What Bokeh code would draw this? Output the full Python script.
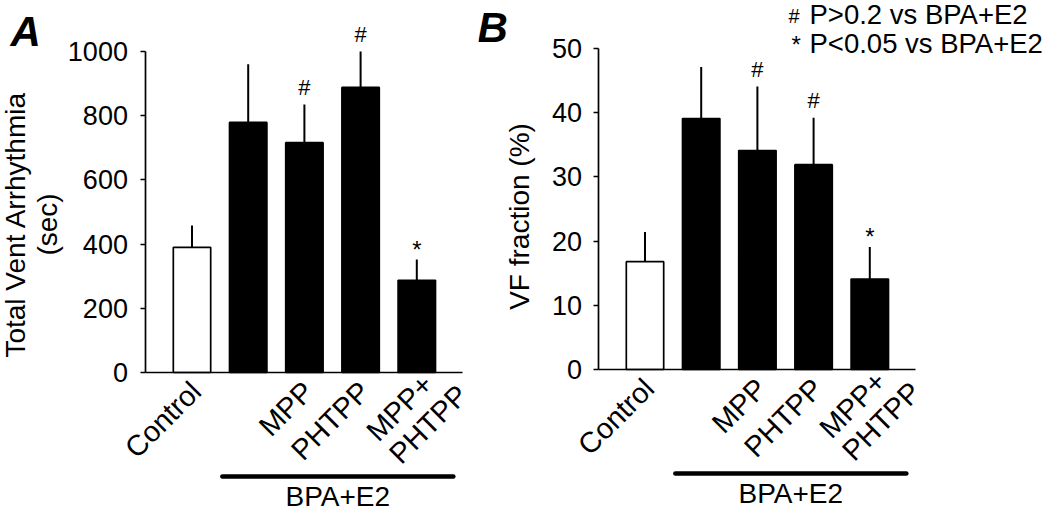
import math
from bokeh.plotting import figure
from bokeh.layouts import row
from bokeh.models import Range1d, FixedTicker
from bokeh.core.properties import value
from bokeh.embed import file_html
from bokeh.resources import INLINE

# ---------------- data ----------------
groups = ["Control", "BPA+E2", "MPP", "PHTPP", "MPP+PHTPP"]
tick_labels = ["Control", "", "MPP", "PHTPP", "MPP+\nPHTPP"]
arrhythmia_sec = [390, 779, 716, 888, 287]
arrhythmia_err = [68, 181, 119, 112, 65]
vf_pct = [16.8, 39.1, 34.1, 31.9, 14.1]
vf_err = [4.6, 8.0, 10.0, 7.3, 5.0]
sig_marks = ["", "", "#", "#", "*"]
arrhythmia_ticks = [0, 200, 400, 600, 800, 1000]
vf_ticks = [0, 10, 20, 30, 40, 50]
treatment_label = "BPA+E2"
legend_symbols = ["#", "*"]
legend_texts = ["P>0.2 vs BPA+E2", "P<0.05 vs BPA+E2"]

FONT = "Liberation Sans"
H = 514
GP = 56.2  # px per group
R2 = math.sqrt(0.5)


def build(spec):
    W = spec["width"]
    left = spec["left"]
    c0 = spec["c0"]
    zero = spec["zero"]
    ymax = spec["ymax"]
    pxy = (spec["zero"] - spec["top"]) / ymax

    def xd(rx):
        return (rx - c0) / GP

    def yd(ry):
        return (zero - ry) / pxy

    p = figure(width=W, height=H,
               x_range=Range1d(xd(left), xd(left + W)),
               y_range=Range1d(yd(H), yd(0)),
               output_backend="svg", toolbar_location=None,
               min_border=0, background_fill_color="white",
               border_fill_color="white")
    p.outline_line_color = None
    p.xgrid.visible = False
    p.ygrid.visible = False

    idx = list(range(len(groups)))
    means = spec["means"]
    errs = spec["errs"]
    tops = [m + e for m, e in zip(means, errs)]
    fills = ["white" if g == "Control" else "black" for g in groups]

    # axes
    xa = p.xaxis[0]
    xa.fixed_location = 0
    xa.bounds = (-0.82, 4.81)
    xa.ticker = FixedTicker(ticks=[])
    xa.major_tick_line_color = None
    xa.minor_tick_line_color = None
    xa.major_label_text_font_size = "0px"
    xa.axis_line_width = 1.7
    xa.axis_line_color = "black"

    ya = p.yaxis[0]
    ya.fixed_location = -0.82
    ya.bounds = (0, ymax)
    ya.ticker = FixedTicker(ticks=spec["ticks"])
    ya.major_tick_out = 5
    ya.major_tick_in = 0
    ya.major_tick_line_width = 1.7
    ya.major_tick_line_color = "black"
    ya.minor_tick_line_color = None
    ya.axis_line_width = 1.7
    ya.axis_line_color = "black"
    ya.major_label_text_font = FONT
    ya.major_label_text_font_size = "27px"
    ya.major_label_text_color = "black"
    ya.major_label_standoff = spec["standoff"]

    # error bars (upper only)
    p.segment(x0=idx, y0=means, x1=idx, y1=tops, line_color="black", line_width=2)
    # bars
    p.vbar(x=idx, top=means, bottom=0, width=0.665, fill_color=fills,
           line_color="black", line_width=1.7)

    # significance marks
    for i, m in enumerate(sig_marks):
        if not m:
            continue
        p.text(x=[idx[i]], y=[tops[i]], text=[m], text_font=value(FONT),
               text_font_size="22px" if m == "#" else "24px",
               text_align="center", text_baseline="alphabetic",
               y_offset=-17 if m == "#" else -10, text_color="black")

    # rotated category labels
    for i, lab in enumerate(tick_labels):
        if not lab:
            continue
        lines = lab.split("\n")
        for k, line in enumerate(lines):
            if len(lines) == 1:
                su, sv = 0.0, 0.0
            else:
                su, sv = 10.0 + 17.0 * k, 32.0 * k
            dx = 4 + (su + sv) * R2
            dy = 14 + (-su + sv) * R2
            p.text(x=[idx[i]], y=[0], text=[line], text_font=value(FONT),
                   text_font_size="29px", angle=math.pi / 4,
                   text_align="right", text_baseline="alphabetic",
                   x_offset=dx, y_offset=dy, text_color="black")

    # treatment bracket
    bx0, bx1 = 1 - 0.46, 4 + 0.65
    by = yd(spec["zero"] + 104)
    p.line(x=[bx0, bx1], y=[by, by], line_color="black", line_width=4.5,
           line_cap="round")
    p.text(x=[(bx0 + bx1) / 2], y=[by], text=[treatment_label],
           text_font=value(FONT), text_font_size="28px", text_align="center",
           text_baseline="alphabetic", y_offset=spec["label_gap"], text_color="black")

    # y axis label(s)
    for txt, rx in zip(spec["ylabel"], spec["ylabel_x"]):
        p.text(x=[xd(rx)], y=[yd(spec["ylabel_y"])], text=[txt],
               text_font=value(FONT), text_font_size="28px", angle=math.pi / 2,
               text_align="center", text_baseline="alphabetic", text_color="black")

    # panel letter
    p.text(x=[xd(spec["letter_x"])], y=[yd(spec["letter_base"])], text=[spec["letter"]],
           text_font=value(FONT), text_font_size="42px",
           text_font_style="bold italic", text_align="left",
           text_baseline="alphabetic", text_color="black")

    if spec.get("legend"):
        sym_x = [788, 791]
        sym_base = [15, 43.5]
        txt_base = [14, 42.5]
        for s, t, sx, sb, tb in zip(legend_symbols, legend_texts, sym_x, sym_base, txt_base):
            p.text(x=[xd(sx)], y=[yd(sb)], text=[s],
                   text_font=value(FONT),
                   text_font_size="20px" if s == "#" else "24px",
                   text_align="left", text_baseline="alphabetic", text_color="black")
            p.text(x=[xd(809)], y=[yd(tb)], text=[t],
                   text_font=value(FONT), text_font_size="27.5px",
                   text_align="left", text_baseline="alphabetic", text_color="black")
    return p


pA = build(dict(width=478, left=0, c0=191.5, zero=372, top=51, ymax=1000,
                means=arrhythmia_sec, errs=arrhythmia_err, ticks=arrhythmia_ticks,
                standoff=13, ylabel=["Total Vent Arrhythmia", "(sec)"],
                ylabel_x=[15, 47], ylabel_y=224, letter="A", letter_x=10,
                letter_base=30.5, label_gap=20))
pB = build(dict(width=572, left=478, c0=644.5, zero=369, top=48, ymax=50,
                means=vf_pct, errs=vf_err, ticks=vf_ticks, standoff=12,
                ylabel=["VF fraction (%)"], ylabel_x=[519], ylabel_y=216,
                letter="B", letter_x=477, letter_base=27, legend=True,
                label_gap=20))

layout = row(pA, pB)
open("out.html", "w").write(file_html(layout, INLINE))
